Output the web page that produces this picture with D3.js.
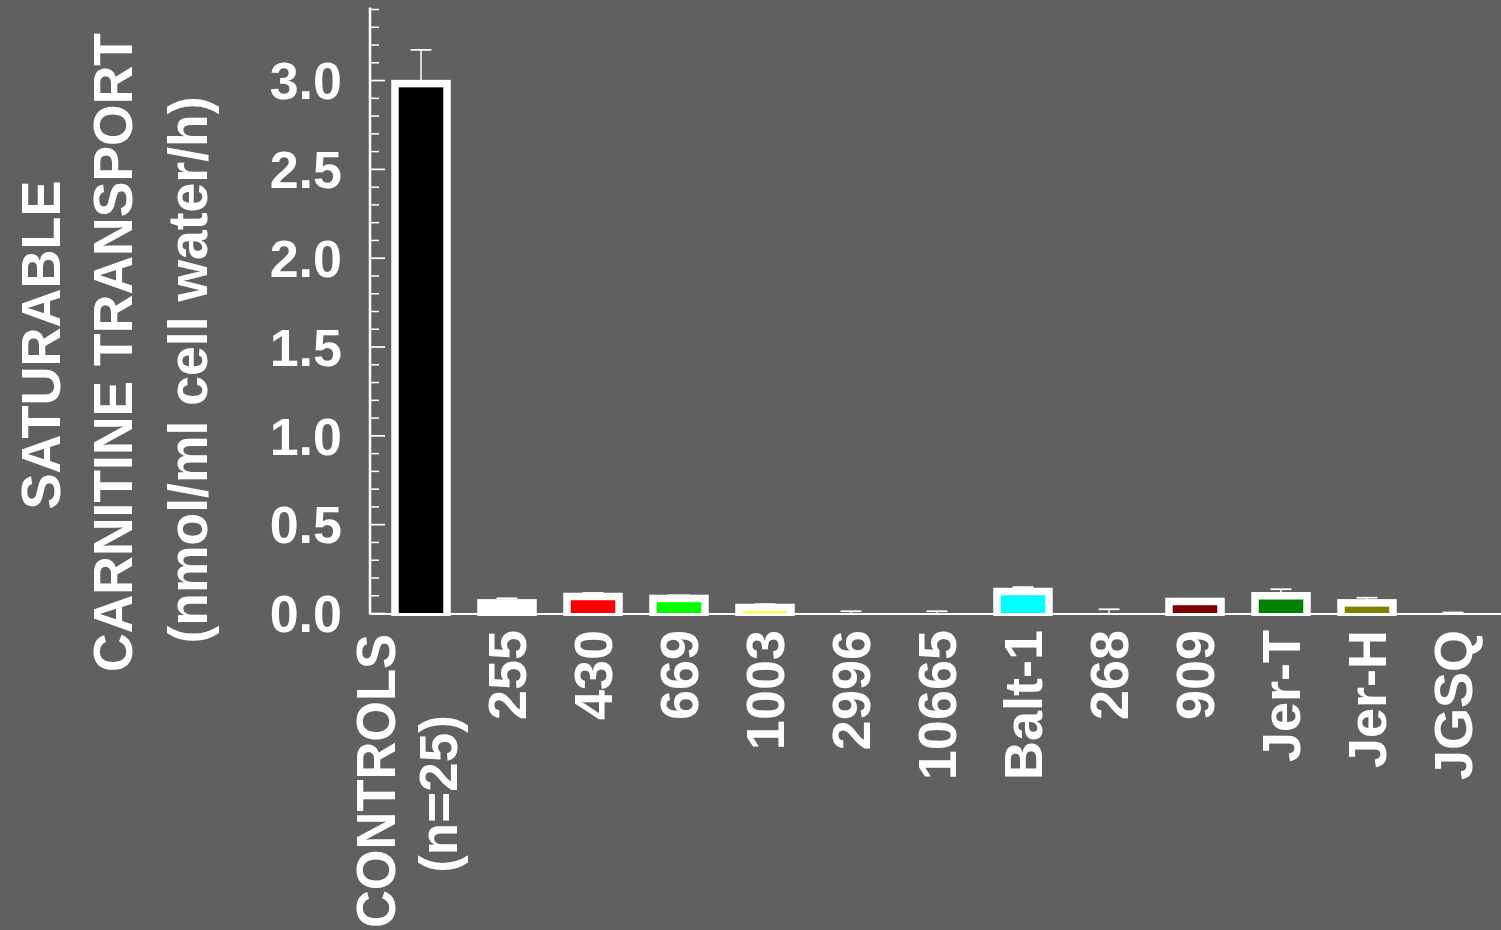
<!DOCTYPE html>
<html>
<head>
<meta charset="utf-8">
<script src="https://cdn.jsdelivr.net/npm/d3@7"></script>
<style>
  html, body { margin: 0; padding: 0; background: #606060; }
  svg { display: block; }
  text { font-family: "Liberation Sans", Arial, Helvetica, sans-serif; font-weight: bold; fill: #ffffff; }
</style>
</head>
<body>
<svg id="chart" width="1501" height="930"></svg>
<script>
// ---- data ----
const categories = ["CONTROLS|(n=25)", "255", "430", "669", "1003", "2996", "10665", "Balt-1", "268", "909", "Jer-T", "Jer-H", "JGSQ"];
const means      = [2.98, 0.057, 0.093, 0.082, 0.031, 0, 0, 0.121, 0, 0.065, 0.097, 0.057, 0];
const errors     = [0.19, 0.026, 0.020, 0.018, 0.019, 0.010, 0.010, 0.025, 0.021, 0.005, 0.037, 0.029, 0.003];
const fills      = ["#000000", "#ffffff", "#ff0000", "#00ff00", "#ffff00", "#0000ff", "#ff00ff", "#00ffff", "#000080", "#800000", "#008000", "#808000", "#800080"];
const yMajorTicks = [0, 0.5, 1.0, 1.5, 2.0, 2.5, 3.0];
const yTickLabels = ["0.0", "0.5", "1.0", "1.5", "2.0", "2.5", "3.0"];
const yMinorTicks = [0.1,0.2,0.3,0.4,0.6,0.7,0.8,0.9,1.1,1.2,1.3,1.4,1.6,1.7,1.8,1.9,2.1,2.2,2.3,2.4,2.6,2.7,2.8,2.9,3.1,3.2,3.3,3.4];
const titleLines = ["SATURABLE", "CARNITINE TRANSPORT", "(nmol/ml cell water/h)"];

// ---- layout ----
const W = 1501, H = 930;
const svg = d3.select("#chart");
svg.append("rect").attr("width", W).attr("height", H).attr("fill", "#606060");

const axisX = 370;
const border = 3.75;
const y = d3.scaleLinear().domain([0, 3.4]).range([613, 9]);
const x = d3.scaleBand().domain(categories).range([378, 1496]).paddingInner(0.395).paddingOuter(0.1975);
const bw = x.bandwidth();

// y axis: minor ticks
const gMinor = svg.append("g").attr("transform", `translate(${axisX},0)`)
  .call(d3.axisRight(y).tickValues(yMinorTicks).tickSize(9).tickSizeOuter(0).tickFormat(""));
gMinor.select(".domain").remove();
gMinor.selectAll(".tick line").attr("stroke", "#ffffff").attr("stroke-width", 1.5);

// y axis: major ticks
const gMajor = svg.append("g").attr("transform", `translate(${axisX},0)`)
  .call(d3.axisRight(y).tickValues(yMajorTicks).tickSize(15).tickSizeOuter(0).tickFormat(""));
gMajor.select(".domain").remove();
gMajor.selectAll(".tick line").attr("stroke", "#ffffff").attr("stroke-width", 1.7);

// y axis: labels
const gLab = svg.append("g").attr("transform", `translate(${axisX},0)`)
  .call(d3.axisLeft(y).tickValues(yMajorTicks).tickSize(0).tickPadding(28)
        .tickFormat((d, i) => yTickLabels[i]));
gLab.select(".domain").remove();
gLab.selectAll(".tick text")
  .attr("font-size", 52).attr("font-family", "Liberation Sans, Arial, sans-serif")
  .attr("font-weight", "bold").attr("fill", "#ffffff").attr("dy", "0.36em");

// y axis domain line
svg.append("line").attr("x1", axisX).attr("x2", axisX)
  .attr("y1", y(3.4) - 1.5).attr("y2", y(0) + 1.5)
  .attr("stroke", "#ffffff").attr("stroke-width", 2.5);

// error bars
const eb = svg.append("g");
categories.forEach((c, i) => {
  const cx = x(c) + bw / 2;
  const top = y(means[i] + errors[i]);
  eb.append("line").attr("x1", cx).attr("x2", cx).attr("y1", y(means[i])).attr("y2", top)
    .attr("stroke", "#ffffff").attr("stroke-width", 1.5);
  eb.append("line").attr("x1", cx - 10.5).attr("x2", cx + 10.5).attr("y1", top).attr("y2", top)
    .attr("stroke", "#ffffff").attr("stroke-width", 1.7);
});

// bars: white frame + coloured fill
const idx = d3.range(categories.length).filter(i => means[i] > 0);
svg.append("g").selectAll("rect").data(idx).join("rect")
  .attr("x", i => x(categories[i]) - border)
  .attr("width", bw + 2 * border)
  .attr("y", i => y(means[i]) - border)
  .attr("height", i => y(0) + 3 - (y(means[i]) - border))
  .attr("fill", "#ffffff");
svg.append("g").selectAll("rect").data(idx).join("rect")
  .attr("x", i => x(categories[i]) + border)
  .attr("width", bw - 2 * border)
  .attr("y", i => y(means[i]) + border)
  .attr("height", i => Math.max(0, y(0) - (y(means[i]) + border)))
  .attr("fill", i => fills[i]);

// x axis line
svg.append("line").attr("x1", axisX).attr("x2", W)
  .attr("y1", y(0) + 1).attr("y2", y(0) + 1)
  .attr("stroke", "#ffffff").attr("stroke-width", 2.2);

// x labels
const xl = svg.append("g");
categories.forEach((c, i) => {
  const cx = x(c) + bw / 2;
  const parts = c.split("|");
  if (parts.length === 1) {
    xl.append("text")
      .attr("transform", `translate(${cx + 19},630) rotate(-90)`)
      .attr("text-anchor", "end")
      .attr("font-size", 54)
      .text(parts[0]);
  } else {
    xl.append("text")
      .attr("transform", `translate(${cx - 26},634) rotate(-90)`)
      .attr("text-anchor", "end")
      .attr("font-size", 55)
      .attr("textLength", 294)
      .attr("lengthAdjust", "spacingAndGlyphs")
      .text(parts[0]);
    xl.append("text")
      .attr("transform", `translate(${cx + 36},794) rotate(-90)`)
      .attr("text-anchor", "middle")
      .attr("font-size", 53)
      .text(parts[1]);
  }
});

// y title
const tPos = [{bx: 60, cy: 345, len: 329}, {bx: 132, cy: 352.5, len: 639}, {bx: 207, cy: 370, len: 547}];
titleLines.forEach((t, i) => {
  svg.append("text")
    .attr("transform", `translate(${tPos[i].bx},${tPos[i].cy}) rotate(-90)`)
    .attr("text-anchor", "middle")
    .attr("font-size", 55)
    .attr("textLength", tPos[i].len)
    .attr("lengthAdjust", "spacingAndGlyphs")
    .text(t);
});
</script>
</body>
</html>
